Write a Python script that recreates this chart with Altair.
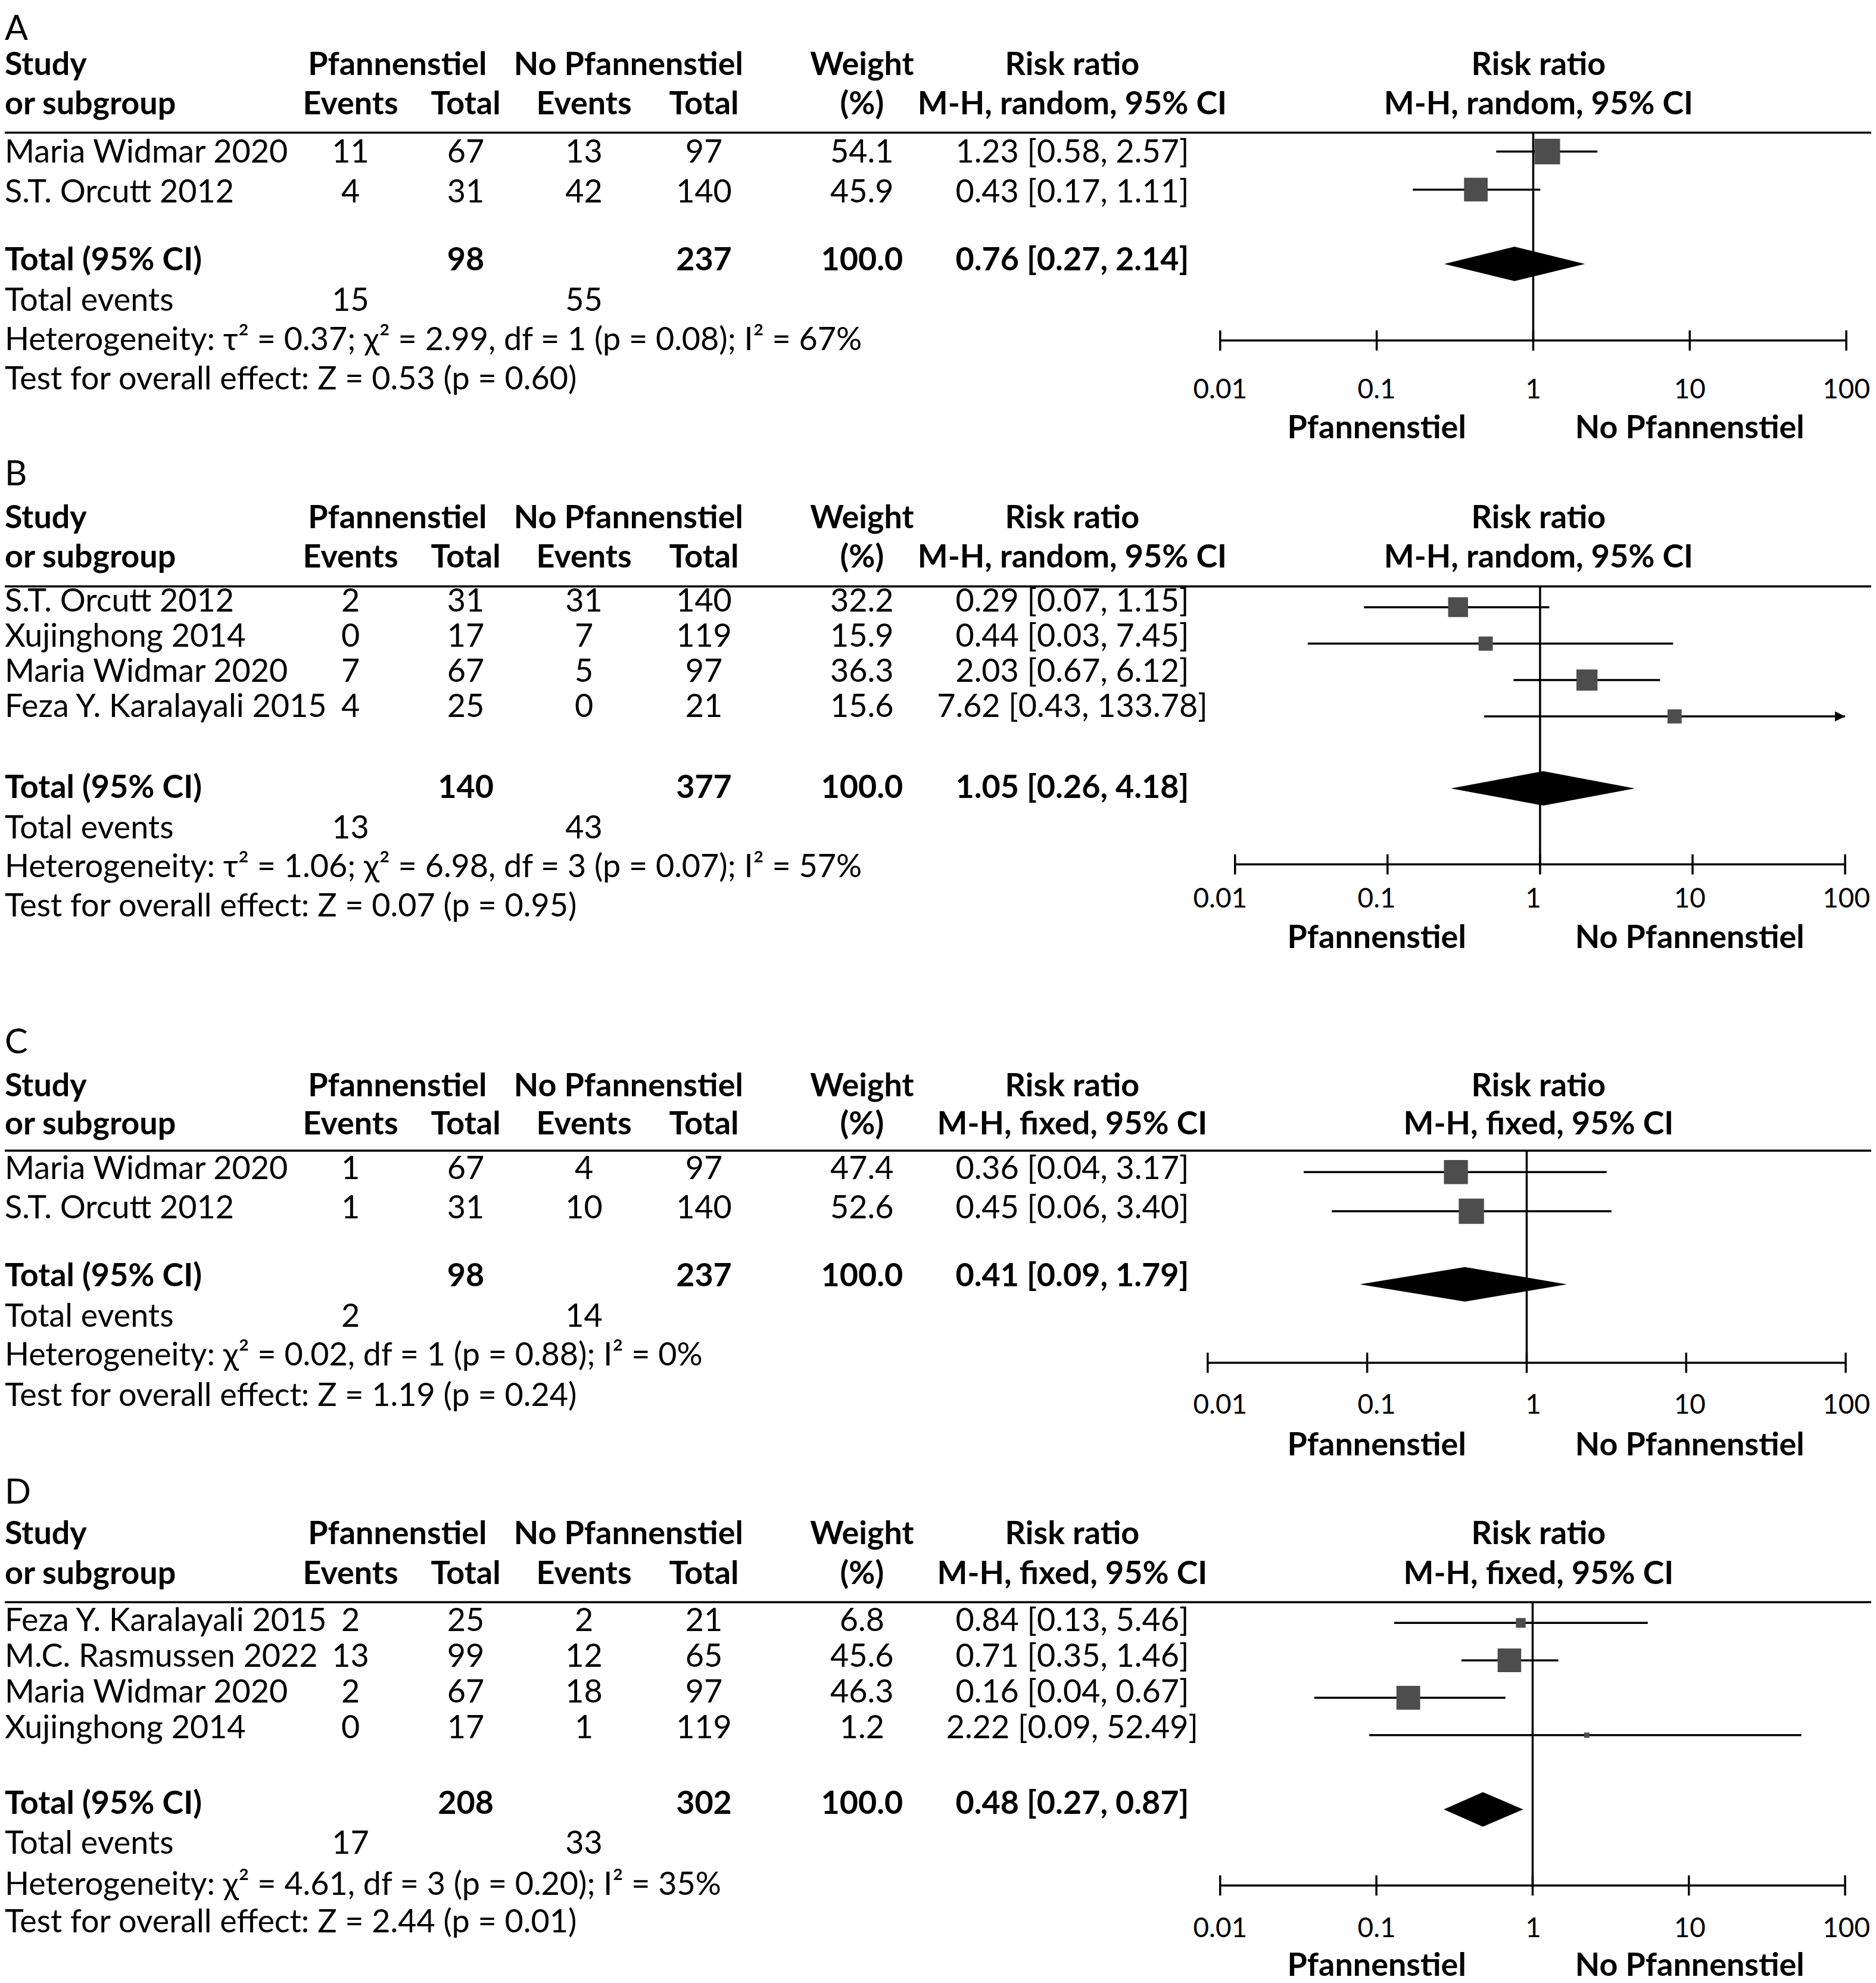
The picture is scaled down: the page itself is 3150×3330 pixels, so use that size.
import altair as alt
import pandas as pd

# ---------------- data ----------------
A_study = ["Maria Widmar 2020", "S.T. Orcutt 2012"]
A_ev1 = [11, 4]
A_n1 = [67, 31]
A_ev2 = [13, 42]
A_n2 = [97, 140]
A_w = [54.1, 45.9]
A_rr = [1.23, 0.43]
A_lo = [0.58, 0.17]
A_hi = [2.57, 1.11]
A_tot_n = [98, 237]
A_tot_w = 100.0
A_tot_rr = [0.76, 0.27, 2.14]
A_tot_ev = [15, 55]
A_method = "M-H, random, 95% CI"
A_het = "Heterogeneity: τ² = 0.37; χ² = 2.99, df = 1 (p = 0.08); I² = 67%"
A_test = "Test for overall effect: Z = 0.53 (p = 0.60)"

B_study = ["S.T. Orcutt 2012", "Xujinghong 2014", "Maria Widmar 2020", "Feza Y. Karalayali 2015"]
B_ev1 = [2, 0, 7, 4]
B_n1 = [31, 17, 67, 25]
B_ev2 = [31, 7, 5, 0]
B_n2 = [140, 119, 97, 21]
B_w = [32.2, 15.9, 36.3, 15.6]
B_rr = [0.29, 0.44, 2.03, 7.62]
B_lo = [0.07, 0.03, 0.67, 0.43]
B_hi = [1.15, 7.45, 6.12, 133.78]
B_tot_n = [140, 377]
B_tot_w = 100.0
B_tot_rr = [1.05, 0.26, 4.18]
B_tot_ev = [13, 43]
B_method = "M-H, random, 95% CI"
B_het = "Heterogeneity: τ² = 1.06; χ² = 6.98, df = 3 (p = 0.07); I² = 57%"
B_test = "Test for overall effect: Z = 0.07 (p = 0.95)"

C_study = ["Maria Widmar 2020", "S.T. Orcutt 2012"]
C_ev1 = [1, 1]
C_n1 = [67, 31]
C_ev2 = [4, 10]
C_n2 = [97, 140]
C_w = [47.4, 52.6]
C_rr = [0.36, 0.45]
C_lo = [0.04, 0.06]
C_hi = [3.17, 3.40]
C_tot_n = [98, 237]
C_tot_w = 100.0
C_tot_rr = [0.41, 0.09, 1.79]
C_tot_ev = [2, 14]
C_method = "M-H, fixed, 95% CI"
C_het = "Heterogeneity: χ² = 0.02, df = 1 (p = 0.88); I² = 0%"
C_test = "Test for overall effect: Z = 1.19 (p = 0.24)"

D_study = ["Feza Y. Karalayali 2015", "M.C. Rasmussen 2022", "Maria Widmar 2020", "Xujinghong 2014"]
D_ev1 = [2, 13, 2, 0]
D_n1 = [25, 99, 67, 17]
D_ev2 = [2, 12, 18, 1]
D_n2 = [21, 65, 97, 119]
D_w = [6.8, 45.6, 46.3, 1.2]
D_rr = [0.84, 0.71, 0.16, 2.22]
D_lo = [0.13, 0.35, 0.04, 0.09]
D_hi = [5.46, 1.46, 0.67, 52.49]
D_tot_n = [208, 302]
D_tot_w = 100.0
D_tot_rr = [0.48, 0.27, 0.87]
D_tot_ev = [17, 33]
D_method = "M-H, fixed, 95% CI"
D_het = "Heterogeneity: χ² = 4.61, df = 3 (p = 0.20); I² = 35%"
D_test = "Test for overall effect: Z = 2.44 (p = 0.01)"

TICKS = [0.01, 0.1, 1, 10, 100]
TICK_LABELS = ["0.01", "0.1", "1", "10", "100"]
DIR_LABELS = ["Pfannenstiel", "No Pfannenstiel"]
DIR_AT = [0.1, 10]

PANEL_DATA = {
    "A": dict(study=A_study, ev1=A_ev1, n1=A_n1, ev2=A_ev2, n2=A_n2, w=A_w, rr=A_rr, lo=A_lo, hi=A_hi,
              tot_n=A_tot_n, tot_w=A_tot_w, tot_rr=A_tot_rr, tot_ev=A_tot_ev, method=A_method,
              het=A_het, test=A_test),
    "B": dict(study=B_study, ev1=B_ev1, n1=B_n1, ev2=B_ev2, n2=B_n2, w=B_w, rr=B_rr, lo=B_lo, hi=B_hi,
              tot_n=B_tot_n, tot_w=B_tot_w, tot_rr=B_tot_rr, tot_ev=B_tot_ev, method=B_method,
              het=B_het, test=B_test),
    "C": dict(study=C_study, ev1=C_ev1, n1=C_n1, ev2=C_ev2, n2=C_n2, w=C_w, rr=C_rr, lo=C_lo, hi=C_hi,
              tot_n=C_tot_n, tot_w=C_tot_w, tot_rr=C_tot_rr, tot_ev=C_tot_ev, method=C_method,
              het=C_het, test=C_test),
    "D": dict(study=D_study, ev1=D_ev1, n1=D_n1, ev2=D_ev2, n2=D_n2, w=D_w, rr=D_rr, lo=D_lo, hi=D_hi,
              tot_n=D_tot_n, tot_w=D_tot_w, tot_rr=D_tot_rr, tot_ev=D_tot_ev, method=D_method,
              het=D_het, test=D_test),
}

# ---------------- layout (page positions, px) ----------------
W, H = 3142, 3322
FONT = "Lato"
FS = 54
TICK_FS = 46
LETTER_FS = 58
LW = 3.5
COL = dict(left=8, pf_head=669, no_head=1058, ev1=590, n1=784, ev2=983, n2=1185,
           weight=1451, rr=1805, forest_head=2590, line_end=3150)
LAY = {
    "A": dict(letter=46, h1=106, h2=172, line=219, row0=253, step=68, frow0=251, fstep=64,
              total=435, diam=440, events=503, het=569, test=635, axis=569, ticklab=652,
              dirlab=718, fx=(2054, 3108)),
    "B": dict(letter=796, h1=869, h2=935, line=983, row0=1009, step=59.3, frow0=1018, fstep=61.3,
              total=1323, diam=1323, events=1391, het=1457, test=1523, axis=1451, ticklab=1510,
              dirlab=1576, fx=(2079, 3106)),
    "C": dict(letter=1752, h1=1825, h2=1890, line=1933, row0=1965, step=66, frow0=1969, fstep=66,
              total=2145, diam=2158, events=2213, het=2279, test=2347, axis=2290, ticklab=2362,
              dirlab=2430, fx=(2033, 3107)),
    "D": dict(letter=2510, h1=2579, h2=2647, line=2693, row0=2726, step=60, frow0=2728, fstep=63,
              total=3034, diam=3042, events=3101, het=3170, test=3233, axis=3170, ticklab=3243,
              dirlab=3306, fx=(2054, 3106)),
}
STD_FX = (2054, 3108)
DIAM_HALF = 29
TICK_HALF = 17

# ---------------- build tables ----------------
texts = []
hlines = []
for p in ["A", "B", "C", "D"]:
    d, L = PANEL_DATA[p], LAY[p]

    def add(x, y, t, style):
        texts.append(dict(x=x, y=y, text=str(t), style=style))

    add(COL["left"], L["letter"], p, "letter")
    for t, c in [("Pfannenstiel", "pf_head"), ("No Pfannenstiel", "no_head"), ("Weight", "weight"),
                 ("Risk ratio", "rr"), ("Risk ratio", "forest_head")]:
        add(COL[c], L["h1"], t, "cb")
    add(COL["left"], L["h1"], "Study", "lb")
    add(COL["left"], L["h2"], "or subgroup", "lb")
    for t, c in [("Events", "ev1"), ("Total", "n1"), ("Events", "ev2"), ("Total", "n2"),
                 ("(%)", "weight"), (d["method"], "rr"), (d["method"], "forest_head")]:
        add(COL[c], L["h2"], t, "cb")
    for i, s in enumerate(d["study"]):
        y = L["row0"] + i * L["step"]
        add(COL["left"], y, s, "ln")
        add(COL["ev1"], y, d["ev1"][i], "cn")
        add(COL["n1"], y, d["n1"][i], "cn")
        add(COL["ev2"], y, d["ev2"][i], "cn")
        add(COL["n2"], y, d["n2"][i], "cn")
        add(COL["weight"], y, f"{d['w'][i]:.1f}", "cn")
        add(COL["rr"], y, f"{d['rr'][i]:.2f} [{d['lo'][i]:.2f}, {d['hi'][i]:.2f}]", "cn")
    add(COL["left"], L["total"], "Total (95% CI)", "lb")
    add(COL["n1"], L["total"], d["tot_n"][0], "cb")
    add(COL["n2"], L["total"], d["tot_n"][1], "cb")
    add(COL["weight"], L["total"], f"{d['tot_w']:.1f}", "cb")
    r, lo, hi = d["tot_rr"]
    add(COL["rr"], L["total"], f"{r:.2f} [{lo:.2f}, {hi:.2f}]", "cb")
    add(COL["left"], L["events"], "Total events", "ln")
    add(COL["ev1"], L["events"], d["tot_ev"][0], "cn")
    add(COL["ev2"], L["events"], d["tot_ev"][1], "cn")
    add(COL["left"], L["het"], d["het"], "ln")
    add(COL["left"], L["test"], d["test"], "ln")
    hlines.append(dict(x=0, x2=COL["line_end"], y=L["line"]))

tdf = pd.DataFrame(texts)
hdf = pd.DataFrame(hlines)

xt = alt.X("x:Q", scale=alt.Scale(domain=[8, 8 + W]), axis=None)
ysc = alt.Scale(domain=[8, 8 + H], reverse=True)
yt = alt.Y("y:Q", scale=ysc, axis=None)


def text_layer(style, align, bold, size=FS):
    return alt.Chart(tdf).transform_filter(alt.datum.style == style).mark_text(
        align=align, baseline="middle", font=FONT, fontSize=size,
        fontWeight="bold" if bold else "normal", color="black"
    ).encode(x=xt, y=yt, text="text:N")


table = alt.layer(
    text_layer("letter", "left", False, LETTER_FS),
    text_layer("lb", "left", True),
    text_layer("ln", "left", False),
    text_layer("cb", "center", True),
    text_layer("cn", "center", False),
    alt.Chart(hdf).mark_rule(color="black", strokeWidth=LW).encode(
        x=xt, x2="x2:Q", y=yt),
)

size_scale = alt.Scale(domain=[0, 100], range=[40, 3400])


def forest(p):
    d, L = PANEL_DATA[p], LAY[p]
    fx = alt.Scale(type="log", domain=[0.01, 100], range=[L["fx"][0] - 8, L["fx"][1] - 8], clamp=True)
    X = lambda f: alt.X(f, scale=fx, axis=None)
    Y = alt.Y("y:Q", scale=ysc, axis=None)
    n = len(d["study"])
    rows = pd.DataFrame(dict(
        rr=d["rr"], lo=d["lo"], hi=[min(h, 100) for h in d["hi"]], w=d["w"],
        y=[L["frow0"] + i * L["fstep"] for i in range(n)],
        over=[h > 100 for h in d["hi"]],
    ))
    r, lo, hi = d["tot_rr"]
    c = L["diam"]
    diam = pd.DataFrame(dict(x=[lo, r, hi], y=[c, c - DIAM_HALF, c], y2=[c, c + DIAM_HALF, c]))
    ref = pd.DataFrame(dict(x=[1], y=[L["line"]], y2=[L["axis"]]))
    axis_line = pd.DataFrame(dict(x=[TICKS[0]], x2=[TICKS[-1]], y=[L["axis"]]))
    ticks = pd.DataFrame(dict(x=TICKS, y=[L["axis"] - TICK_HALF] * 5, y2=[L["axis"] + TICK_HALF] * 5))
    layers = [
        alt.Chart(ref).mark_rule(color="black", strokeWidth=LW).encode(x=X("x:Q"), y=Y, y2="y2:Q"),
        alt.Chart(rows).mark_rule(color="black", strokeWidth=LW).encode(x=X("lo:Q"), x2="hi:Q", y=Y),
        alt.Chart(rows).mark_square(color="#4d4d4d", opacity=1, strokeWidth=0).encode(
            x=X("rr:Q"), y=Y, size=alt.Size("w:Q", scale=size_scale, legend=None)),
        alt.Chart(rows).transform_filter(alt.datum.over).mark_point(
            shape="M-1,-0.5L0,0L-1,0.5Z", filled=True, size=1156, color="black", opacity=1).encode(
            x=X("hi:Q"), y=Y),
        alt.Chart(diam).mark_area(color="black", opacity=1).encode(x=X("x:Q"), y=Y, y2="y2:Q"),
        alt.Chart(axis_line).mark_rule(color="black", strokeWidth=LW).encode(x=X("x:Q"), x2="x2:Q", y=Y),
        alt.Chart(ticks).mark_rule(color="black", strokeWidth=LW).encode(x=X("x:Q"), y=Y, y2="y2:Q"),
    ]
    return alt.layer(*layers)


lab_rows, dir_rows = [], []
for p in ["A", "B", "C", "D"]:
    for t, s in zip(TICKS, TICK_LABELS):
        lab_rows.append(dict(x=t, y=LAY[p]["ticklab"], text=s))
    for t, s in zip(DIR_AT, DIR_LABELS):
        dir_rows.append(dict(x=t, y=LAY[p]["dirlab"], text=s))
std = alt.Scale(type="log", domain=[0.01, 100], range=[STD_FX[0] - 8, STD_FX[1] - 8])
labels = alt.layer(
    alt.Chart(pd.DataFrame(lab_rows)).mark_text(font=FONT, fontSize=TICK_FS, baseline="middle", align="center", color="black").encode(
        x=alt.X("x:Q", scale=std, axis=None), y=alt.Y("y:Q", scale=ysc, axis=None), text="text:N"),
    alt.Chart(pd.DataFrame(dir_rows)).mark_text(font=FONT, fontSize=FS, fontWeight="bold", baseline="middle", align="center", color="black").encode(
        x=alt.X("x:Q", scale=std, axis=None), y=alt.Y("y:Q", scale=ysc, axis=None), text="text:N"),
)

chart = alt.layer(
    table, forest("A"), forest("B"), forest("C"), forest("D"), labels
).resolve_scale(x="independent").properties(
    width=W, height=H, padding=0, background="white",
    autosize=alt.AutoSizeParams(type="none", contains="padding"),
).configure_view(strokeWidth=0)

chart.save("out.html", embed_options={"renderer": "svg", "actions": False})
